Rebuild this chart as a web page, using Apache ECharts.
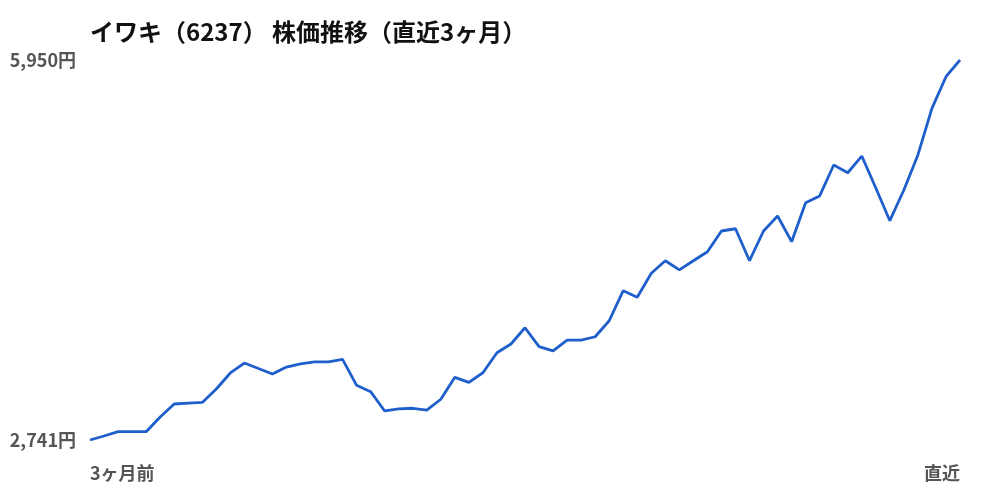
<!DOCTYPE html>
<html>
<head>
<meta charset="utf-8">
<script src="https://cdn.jsdelivr.net/npm/echarts@6/dist/echarts.min.js"></script>
<style>
html,body{margin:0;padding:0;background:#fff;}
#chart{width:1000px;height:500px;}
</style>
</head>
<body>
<div id="chart"></div>
<script>
var titleText = 'イワキ（6237） 株価推移（直近3ヶ月）';
var prices = [2741,2775,2811,2811,2811,2935,3045,3053,3058,3172,3307,3391,3345,3298,3357,3383,3400,3400,3422,3203,3149,2986,3003,3009,2994,3085,3270,3228,3309,3478,3552,3689,3529,3493,3585,3585,3613,3748,4002,3946,4149,4255,4177,4255,4331,4506,4525,4255,4506,4633,4416,4745,4802,5063,4998,5139,4869,4593,4852,5148,5542,5809,5950];
var days = prices.map(function(_, i){ return i; });
var xTickLabels = ['3ヶ月前', '直近'];
var yMin = 2741, yMax = 5950;

var chart = echarts.init(document.getElementById('chart'));
var fontFam = '"Noto Sans CJK JP", "Noto Sans", sans-serif';
chart.setOption({
  animation: false,
  title: {
    text: titleText,
    left: 85, top: 15,
    textStyle: {fontFamily: fontFam, fontSize: 24, fontWeight: 'bold', color: '#111'}
  },
  grid: {left: 90, right: 40, top: 60, bottom: 60, containLabel: false},
  xAxis: {
    type: 'category',
    data: days,
    boundaryGap: false,
    axisLine: {show: false},
    axisTick: {show: false},
    splitLine: {show: false},
    axisLabel: {
      interval: function(i){ return i === 0 || i === days.length - 1; },
      formatter: function(v, i){ return i === 0 ? xTickLabels[0] : xTickLabels[1]; },
      alignMinLabel: 'left',
      alignMaxLabel: 'right',
      margin: 24,
      fontFamily: fontFam, fontSize: 18, fontWeight: 'bold', color: '#555'
    }
  },
  yAxis: {
    type: 'value',
    min: yMin, max: yMax,
    axisLine: {show: false},
    axisTick: {show: false},
    splitLine: {show: false},
    axisLabel: {
      customValues: [yMin, yMax],
      formatter: function(v){ return v.toLocaleString('en-US') + '円'; },
      margin: 14,
      fontFamily: fontFam, fontSize: 18, fontWeight: 'bold', color: '#555'
    }
  },
  series: [{
    type: 'line',
    data: prices,
    symbol: 'none',
    lineStyle: {color: '#1f5fcc', width: 2.8},
    itemStyle: {color: '#1f5fcc'}
  }]
});
</script>
</body>
</html>
